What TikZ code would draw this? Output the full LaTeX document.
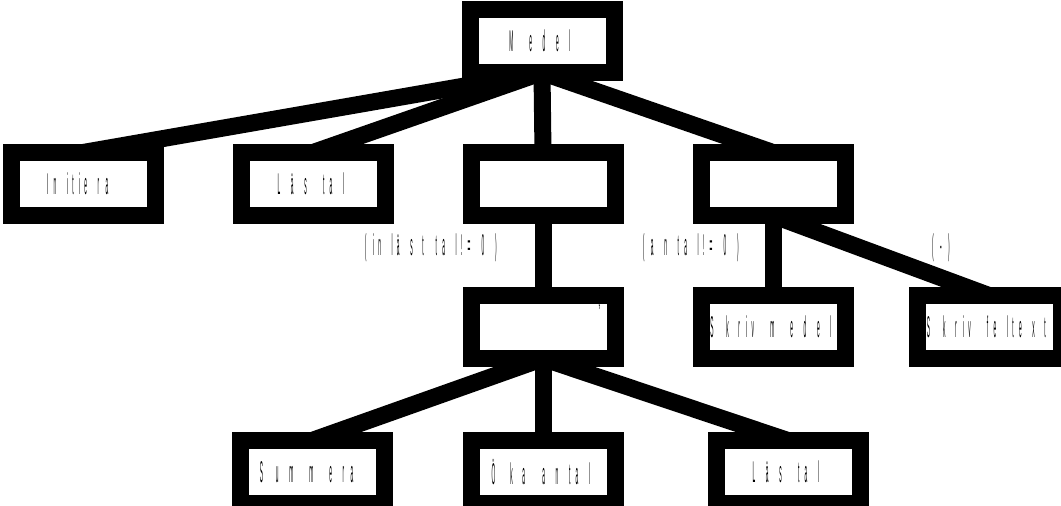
\documentclass[tikz,border=0pt]{standalone}
\usepackage{fontspec}
\setmainfont{Liberation Sans}
\usetikzlibrary{backgrounds}
\newlength\squeezewd
\newcommand\squeeze[1]{\squeezeloop#1\relax}
\newcommand\squeezeloop[1]{\ifx\relax#1\else\settowidth\squeezewd{#1}\makebox[\squeezewd][l]{\scalebox{0.2}[1.25]{#1}}\expandafter\squeezeloop\fi}
\tikzset{
	jbox/.style={draw, line width=17pt, fill=white, minimum width=144pt, minimum height=63pt, inner sep=0pt, outer sep=0pt, font=\fontsize{24}{28}\selectfont},
	jline/.style={line width=17pt},
	cond/.style={inner sep=0pt, font=\fontsize{24}{28}\selectfont}
}
\begin{document}
\begin{tikzpicture}[x=1pt, y=-1pt]
			%%%%% START %%%%%
			\useasboundingbox (0, 0) rectangle (1061, 506);
			
			\node[jbox] (medel) at (542, 41) {\squeeze{Medel}};
			
			\node[jbox] (init) at (83, 184) {\squeeze{Initiera}};
			\node[jbox] (lastal) at (313, 184) {\squeeze{Läs~tal}};
			\node[jbox] (loop) at (543, 184) {};
			\node[jbox] (sel) at (773, 184) {};
			
			\node[jbox] (body) at (543, 327) {};
			\node[jbox] (skrivmedel) at (773, 327) {\squeeze{Skriv~medel}};
			\node[jbox] (skrivfel) at (989, 327) {\squeeze{Skriv~feltext}};
			\node[font=\fontsize{16}{18}\selectfont, inner sep=0pt] (star) at (602, 310) {\squeeze{*}};
			
			\node[jbox] (summera) at (312, 472) {\squeeze{Summera}};
			\node[jbox] (oka) at (543, 472) {\squeeze{Öka~antal}};
			\node[jbox] (lastalb) at (788, 472) {\squeeze{Läs~tal}};
			
			\node[cond] (villkor) at (434, 248) {\squeeze{(inläst~tal!=0)}};
			\node[cond] (antal) at (694, 248) {\squeeze{(antal!=0)}};
			\node[cond] (annars) at (944, 248) {\squeeze{(-)}};
			
			\begin{scope}[on background layer]
			\fill[white] (0, 0) rectangle (1061, 506);
			
			\draw[jline] (medel.south) -- (init.north);
			\draw[jline] (medel.south) -- (lastal.north);
			\draw[jline] (medel.south) -- (loop.north);
			\draw[jline] (medel.south) -- (sel.north);
			
			\draw[jline] (loop.south) -- (body.north);
			\draw[jline] (sel.south) -- (skrivmedel.north);
			\draw[jline] (sel.south) -- (skrivfel.north);
			
			\draw[jline] (body.south) -- (summera.north);
			\draw[jline] (body.south) -- (oka.north);
			\draw[jline] (body.south) -- (lastalb.north);
			\end{scope}
			%%%%% END %%%%%
\end{tikzpicture}
\end{document}
